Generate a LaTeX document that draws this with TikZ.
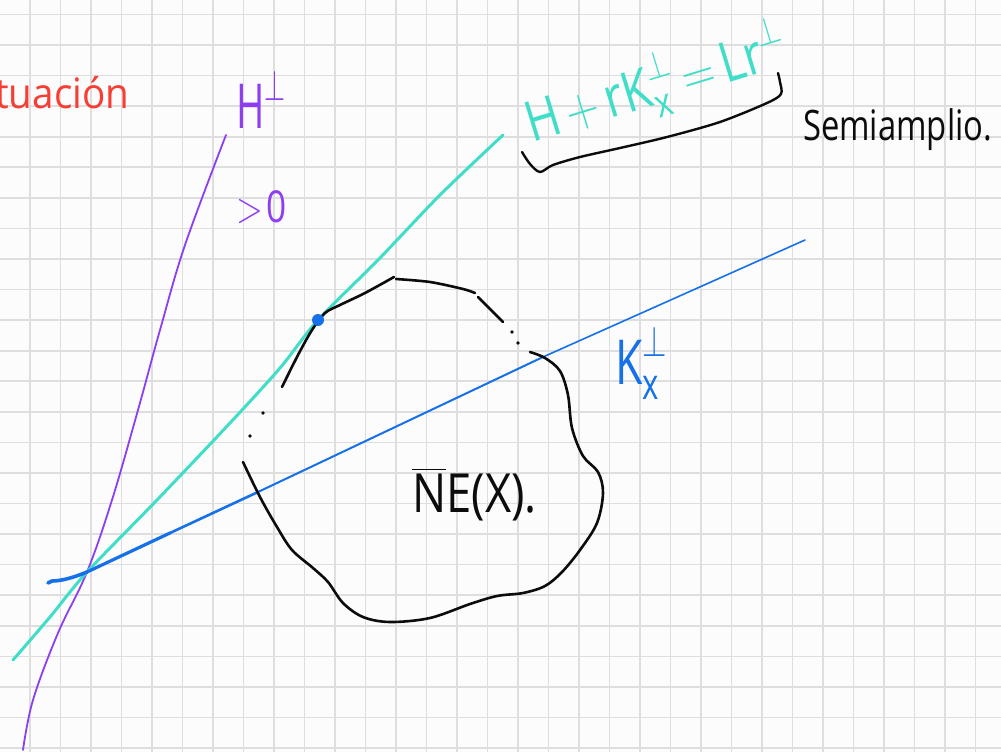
\RequirePackage{fix-cm}
\documentclass[tikz,border=0pt]{standalone}
\usepackage{amsmath}
\usepackage{fontspec}
\setmainfont{Open Sans}
\definecolor{paper}{RGB}{252,252,252}
\definecolor{gridgray}{RGB}{222,222,222}
\definecolor{hred}{RGB}{246,62,52}
\definecolor{hpurple}{RGB}{142,62,242}
\definecolor{hteal}{RGB}{64,222,200}
\definecolor{hblue}{RGB}{22,112,232}
\definecolor{hblack}{RGB}{12,12,12}
\tikzset{
  gridline/.style={draw=gridgray,line width=1.6pt},
  ink/.style={line cap=round,line join=round},
  blobline/.style={ink,draw=hblack,line width=2.6pt},
  inkdot/.style={circle,fill=hblack,inner sep=0pt,minimum size=3.6pt},
  handtext/.style={inner sep=0pt,anchor=base west}
}
\begin{document}
\begin{tikzpicture}[x=1pt,y=-1pt]
\useasboundingbox (0,0) rectangle (1001,752);
\clip (0,0) rectangle (1001,752);
\fill[paper] (0,0) rectangle (1001,752);
% grid
\foreach \i in {0,...,32} \draw[gridline] ({30+30.5*\i},0) -- ({30+30.5*\i},752);
\foreach \j in {-1,...,23} \draw[gridline] (0,{45+30.57*\j}) -- (1001,{45+30.57*\j});

% red heading (cut off at the left)
\node[handtext,text=hred,font=\fontsize{42}{46}\selectfont,xscale=0.92] (titulo) at (-5,108) {tuación};

% purple line H
\draw[ink,draw=hpurple,line width=1.8pt] plot[smooth,tension=0.6] coordinates {(23,750) (33,700) (58,633) (87,572) (112,500) (138,410) (160,330) (185,245) (226,135)};
\node[handtext,text=hpurple,font=\fontsize{62}{66}\selectfont,xscale=0.62] (hlab) at (236,128) {$\text{H}^{\perp}$};
\node[handtext,text=hpurple,font=\fontsize{44}{48}\selectfont,xscale=0.8] (gt) at (236,222) {$>\!\text{0}$};

% teal line
\draw[ink,draw=hteal,line width=3pt] plot[smooth,tension=0.5] coordinates {(13,660) (50,617) (87,572) (157,500) (230,423) (280,368) (318,320) (378,260) (440,195) (503,135)};
\node[handtext,text=hteal,font=\fontsize{56}{60}\selectfont,rotate=17,xscale=0.82] (tlab) at (532,143) {$\text{H}\,{+}\,\text{r}\text{K}_{\text{x}}^{\perp}\,{=}\,\text{Lr}^{\perp}$};

% brace under the teal label
\draw[ink,draw=hblack,line width=2.4pt] plot[smooth,tension=0.5] coordinates {(522,152) (530,164) (540,172) (553,165) (580,157) (620,148) (667,137) (720,122) (767,103) (781,94) (780,82) (778,73)};
\node[handtext,text=hblack,font=\fontsize{42}{46}\selectfont,xscale=0.78] (semi) at (803,140) {Semiamplio.};

% blue line K_x^perp
\coordinate (cross) at (87,572);
\draw[ink,draw=hblue,line width=3.6pt] (48,583) -- (52,581) .. controls (62,581) and (75,577) .. (cross);
\draw[ink,draw=hblue,line width=3.2pt] (cross) -- (170,533);
\draw[ink,draw=hblue,line width=2.6pt] (170,533) -- (258,492);
\draw[ink,draw=hblue,line width=2pt] (258,492) -- (543,357);
\draw[ink,draw=hblue,line width=1.6pt] (543,357) -- (805,240);
\node[handtext,text=hblue,font=\fontsize{62}{66}\selectfont,xscale=0.72] (klab) at (615,384) {$\text{K}_{\text{x}}^{\perp}$};

% black blob: closure of NE(x)
\draw[blobline] plot[smooth,tension=0.5] coordinates {(282,387) (298,355) (312,330) (325,313) (340,305) (365,293) (394,277)};
\draw[blobline] plot[smooth,tension=0.5] coordinates {(396,279) (430,282) (463,289) (475,293)};
\draw[blobline] plot[smooth,tension=0.5] coordinates {(478,297) (490,309) (503,322)};
\node[inkdot] (d1) at (512,332) {};
\node[inkdot] (d2) at (518,343) {};
\node[inkdot] (d3) at (263,413) {};
\node[inkdot] (d4) at (250,436) {};
\draw[blobline] plot[smooth,tension=0.55] coordinates {(243,462) (260,497) (277,527) (292,550) (313,568) (328,582) (343,603) (363,617) (390,622) (430,618) (470,604) (497,596) (523,593) (545,586) (562,572) (580,550) (597,523) (603,493) (598,472) (583,456) (572,428) (568,395) (560,371) (545,358) (530,352)};
\node[handtext,text=hblack,font=\fontsize{54}{58}\selectfont,xscale=0.84] (ne) at (412,512) {$\overline{\text{N}}\text{E(X).}$};

% tangency point
\node[circle,fill=hblue,inner sep=0pt,minimum size=12pt] (tang) at (318,320) {};
\end{tikzpicture}
\end{document}
